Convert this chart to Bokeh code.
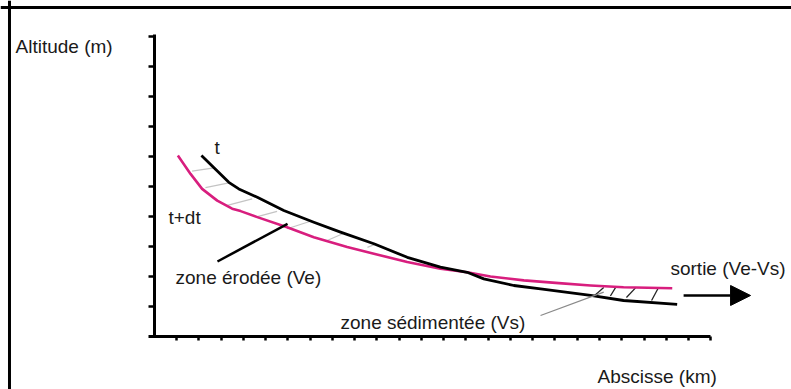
import numpy as np
from bokeh.plotting import figure
from bokeh.models import (LinearAxis, FixedTicker, Label, Span, Arrow, NormalHead,
                          Range1d, CustomJSTickFormatter)
from bokeh.embed import file_html
from bokeh.resources import INLINE

# ---------------- data (abscissa in tick units, altitude in tick units) ----------------
t_x = [2.11, 3.34, 3.79, 4.62, 5.81, 7.16, 8.36, 9.86, 11.36, 12.85, 14.05, 14.80,
       16.15, 17.35, 19.60, 21.08, 23.49]
t_y = [6.03, 5.14, 4.92, 4.64, 4.20, 3.81, 3.48, 3.09, 2.64, 2.31, 2.14, 1.92,
       1.70, 1.59, 1.37, 1.20, 1.07]

tdt_x = [1.05, 1.62, 2.14, 2.82, 3.49, 3.87, 4.62, 5.96, 7.16, 8.66, 9.86, 11.36,
         12.85, 14.05, 15.10, 16.60, 18.17, 19.60, 21.08, 23.27]
tdt_y = [6.03, 5.42, 4.92, 4.53, 4.26, 4.18, 3.98, 3.64, 3.31, 2.98, 2.76, 2.48,
         2.26, 2.14, 2.00, 1.87, 1.78, 1.70, 1.64, 1.61]

# hatching of the eroded zone (t+dt -> t)
ero_x0 = [1.69, 2.29, 3.27, 4.54, 5.96, 7.76, 9.57]
ero_y0 = [5.51, 4.96, 4.37, 3.98, 3.59, 3.20, 2.97]
ero_x1 = [2.67, 3.34, 4.39, 5.51, 7.01, 8.51, 9.93]
ero_y1 = [5.62, 5.12, 4.59, 4.17, 3.84, 3.44, 3.08]

# hatching of the sedimented zone (t -> t+dt)
sed_x0 = [19.78, 20.49, 21.21, 22.34]
sed_y0 = [1.37, 1.35, 1.30, 1.20]
sed_x1 = [20.19, 20.72, 21.62, 22.63]
sed_y1 = [1.63, 1.63, 1.62, 1.60]

y_ticks = list(range(1, 11))
x_ticks = list(range(1, 26))

# ---------------- layout ----------------
W, H = 791, 389
X_RANGE = (-6.9213, 28.6292)
Y_RANGE = (-1.7667, 11.2)

FONT = "Liberation Sans"
FSIZE = "19px"
MAGENTA = "#d81e7e"

p = figure(width=W, height=H, output_backend="svg", toolbar_location=None,
           x_axis_location=None, y_axis_location=None,
           x_range=Range1d(*X_RANGE), y_range=Range1d(*Y_RANGE),
           min_border=0, min_border_left=0, min_border_right=0,
           min_border_top=0, min_border_bottom=0)
p.outline_line_color = None
p.background_fill_color = "white"
p.border_fill_color = "white"
p.xgrid.grid_line_color = None
p.ygrid.grid_line_color = None
p.xgrid.visible = False
p.ygrid.visible = False

blank = CustomJSTickFormatter(code="return ''")

yax = LinearAxis(fixed_location=0, ticker=FixedTicker(ticks=y_ticks), bounds=(0, 10.08),
                 formatter=blank, axis_line_width=3, axis_line_color="black",
                 major_tick_line_width=2.5, major_tick_out=6, major_tick_in=0,
                 minor_tick_line_color=None)
p.add_layout(yax, "left")

xax = LinearAxis(fixed_location=0, ticker=FixedTicker(ticks=x_ticks), bounds=(-0.27, 25),
                 formatter=blank, axis_line_width=3, axis_line_color="black",
                 major_tick_line_width=2.5, major_tick_out=4, major_tick_in=0,
                 minor_tick_line_color=None)
p.add_layout(xax, "below")

# frame of the figure (left and top edges)
p.add_layout(Span(location=-6.517, dimension="height",
                  line_color="black", line_width=3))
p.add_layout(Span(location=10.967, dimension="width",
                  line_color="black", line_width=3))

# hatching
p.segment(ero_x0, ero_y0, ero_x1, ero_y1, line_color="#c4c4c4", line_width=1.2)
p.segment(sed_x0, sed_y0, sed_x1, sed_y1, line_color="#222222", line_width=1.3)

# profiles
p.line(tdt_x, tdt_y, line_color=MAGENTA, line_width=2.6, line_join="round")
p.line(t_x, t_y, line_color="black", line_width=2.8, line_join="round")

# pointers
ann = {
    "ero_ptr": (2.83, 2.50, 5.98, 3.757),
    "sed_ptr": (17.35, 0.70, 20.19, 1.477),
    "arrow": (23.78, 1.367, 26.79, 1.367),
}
x0, y0, x1, y1 = ann["ero_ptr"]
p.segment([x0], [y0], [x1], [y1], line_color="black", line_width=2.5)
x0, y0, x1, y1 = ann["sed_ptr"]
p.segment([x0], [y0], [x1], [y1], line_color="#8a8a8a", line_width=1.3)
x0, y0, x1, y1 = ann["arrow"]
p.add_layout(Arrow(end=NormalHead(size=20, fill_color="black", line_color="black"),
                   x_start=x0, y_start=y0, x_end=x1, y_end=y1,
                   line_color="black", line_width=2.6))

labels = [
    ("Altitude (m)", -6.247, 9.65),
    ("t", 2.697, 6.30),
    ("t+dt", 0.629, 3.967),
    ("zone érodée (Ve)", 0.944, 1.967),
    ("zone sédimentée (Vs)", 8.36, 0.483),
    ("sortie (Ve-Vs)", 23.19, 2.267),
    ("Abscisse (km)", 19.91, -1.333),
]
for txt, lx, ly in labels:
    p.add_layout(Label(x=lx, y=ly, text=txt, text_font=FONT, text_font_size=FSIZE,
                       text_color="#1a1a1a", text_align="left",
                       text_baseline="alphabetic"))

open("out.html", "w").write(file_html(p, INLINE))
